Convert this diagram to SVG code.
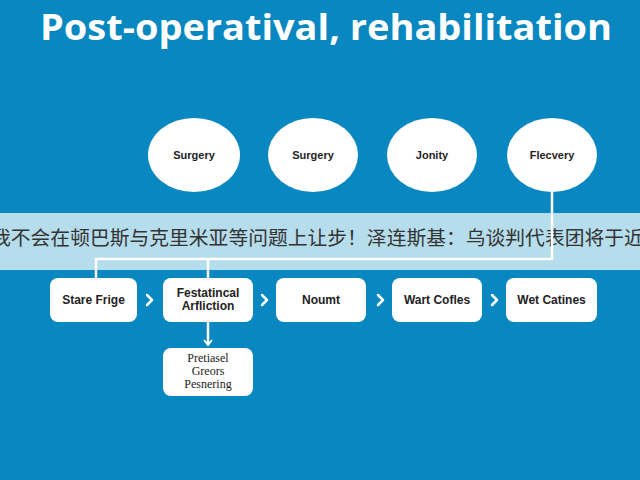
<svg xmlns="http://www.w3.org/2000/svg" width="640" height="480" viewBox="0 0 640 480">
<defs>
<style>
.title{font-family:"Open Sans","Liberation Sans",sans-serif;font-weight:700;font-size:36px;fill:#fff}
.circ{fill:#fff}
.ctext{font-family:"Liberation Sans",Arial,sans-serif;font-weight:700;font-size:11px;fill:#222;text-anchor:middle}
.box{fill:#fff}
.btext{font-family:"Liberation Sans",Arial,sans-serif;font-weight:700;font-size:12px;fill:#222;text-anchor:middle}
.btext2{font-family:"Liberation Serif","Times New Roman",serif;font-size:12px;fill:#222;text-anchor:middle}
.conn{fill:none;stroke:#fff;stroke-width:2.5}
.chev{fill:none;stroke:#fff;stroke-width:2.5;stroke-linecap:round;stroke-linejoin:round}
.band{fill:#B6DDEC}
.bandtext{font-family:"Noto Sans CJK SC",sans-serif;font-size:19.8px;fill:#333}
</style>
<marker id="ah" viewBox="0 0 10 10" refX="8" refY="5" markerWidth="10" markerHeight="10" markerUnits="userSpaceOnUse" orient="auto">
<path d="M3,1 L8,5 L3,9" fill="none" stroke="#fff" stroke-width="1.8"/>
</marker>
</defs>
<rect width="640" height="480" fill="#0887C0"/>
<text class="title" x="326" y="40" text-anchor="middle" textLength="572" lengthAdjust="spacingAndGlyphs">Post-operatival, rehabilitation</text>

<g id="n-surgery1"><ellipse class="circ" cx="194" cy="155" rx="46" ry="37"/><text class="ctext" x="194" y="159">Surgery</text></g>
<g id="n-surgery2"><ellipse class="circ" cx="313" cy="155" rx="45" ry="37"/><text class="ctext" x="313" y="159">Surgery</text></g>
<g id="n-jonity"><ellipse class="circ" cx="432" cy="155" rx="45" ry="37"/><text class="ctext" x="432" y="159">Jonity</text></g>
<g id="n-flecvery"><ellipse class="circ" cx="552" cy="155" rx="45" ry="37"/><text class="ctext" x="552" y="159">Flecvery</text></g>

<rect class="band" x="0" y="213" width="640" height="57"/>
<text class="bandtext" x="-9" y="245">我不会在顿巴斯与克里米亚等问题上让步！泽连斯基：乌谈判代表团将于近</text>

<g id="connectors">
<path class="conn" d="M552,192 V259 H96 V278"/>
<path class="conn" d="M208,259 V278"/>
<path class="conn" d="M208,322 V345" marker-end="url(#ah)"/>
<path class="chev" d="M147,295 L152,300 L147,305"/>
<path class="chev" d="M262,295 L267,300 L262,305"/>
<path class="chev" d="M378,295 L383,300 L378,305"/>
<path class="chev" d="M492,295 L497,300 L492,305"/>
</g>

<g id="n-stare"><rect class="box" x="50" y="278" width="87" height="44" rx="8"/><text class="btext" x="93.5" y="304">Stare Frige</text></g>
<g id="n-festatincal"><rect class="box" x="163" y="278" width="90" height="44" rx="8"/><text class="btext" x="208" y="297">Festatincal</text><text class="btext" x="208" y="310">Arfliction</text></g>
<g id="n-noumt"><rect class="box" x="276" y="278" width="90" height="44" rx="8"/><text class="btext" x="321" y="304">Noumt</text></g>
<g id="n-wart"><rect class="box" x="392" y="278" width="90" height="44" rx="8"/><text class="btext" x="437" y="304">Wart Cofles</text></g>
<g id="n-wet"><rect class="box" x="506" y="278" width="91" height="44" rx="8"/><text class="btext" x="551.5" y="304">Wet Catines</text></g>
<g id="n-pretiasel"><rect class="box" x="163" y="348" width="90" height="48" rx="8"/><text class="btext2" x="208" y="362">Pretiasel</text><text class="btext2" x="208" y="375">Greors</text><text class="btext2" x="208" y="388">Pesnering</text></g>
</svg>
